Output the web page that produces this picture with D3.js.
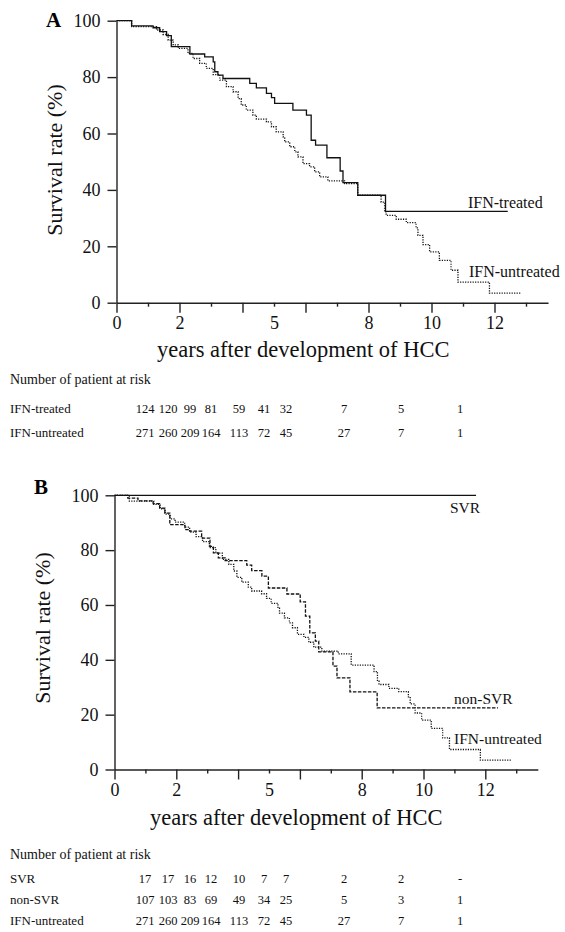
<!DOCTYPE html>
<html>
<head>
<meta charset="utf-8">
<script src="https://cdn.jsdelivr.net/npm/d3@7"></script>
<style>
  body { margin: 0; background: #fff; }
  svg { display: block; font-family: "Liberation Serif", "DejaVu Serif", serif; }
</style>
</head>
<body>
<script>
const w = 565;
const h = 932;

// survival curves (years, survival %)
const treatedT = [0, 0.48, 1.16, 1.37, 1.59, 1.74, 2.33, 2.80, 3.07, 3.12, 3.22, 3.38, 4.23, 4.44, 4.76, 4.92, 5.02, 5.60, 6.03, 6.18, 6.32, 6.68, 7.10, 7.19, 7.66, 8.54, 12.42];
const treatedS = [100, 98.2, 97.5, 96.1, 94.7, 90.8, 88.2, 87.2, 85.4, 81.9, 80.7, 79.5, 77.8, 76.2, 74.2, 72.7, 70.7, 68.3, 66.5, 57.6, 55.9, 51.4, 46.7, 42.6, 38.1, 32.4, 32.4];

const untreatedT = [0, 0.48, 1.27, 1.48, 1.64, 1.80, 1.96, 2.27, 2.43, 2.64, 2.85, 3.07, 3.28, 3.49, 3.70, 3.86, 3.96, 4.12, 4.33, 4.44, 4.76, 4.92, 5.07, 5.29, 5.34, 5.50, 5.66, 5.76, 5.92, 6.13, 6.29, 6.45, 6.71, 7.24, 7.66, 8.40, 8.51, 8.56, 8.88, 9.20, 9.51, 9.57, 9.73, 9.94, 10.25, 10.62, 10.84, 11.84, 12.84];
const untreatedS = [100, 97.9, 96.7, 95.1, 93.1, 91.4, 90.2, 88.4, 86.6, 84.9, 83.1, 80.9, 78.9, 76.6, 74.8, 72.4, 70.1, 68.3, 66.5, 65.1, 64.1, 62.4, 60.6, 58.8, 57.0, 55.3, 53.5, 51.7, 49.3, 48.2, 46.4, 44.6, 43.2, 42.2, 38.1, 35.7, 32.2, 31.0, 29.6, 28.4, 26.5, 23.9, 20.6, 18.0, 15.0, 11.5, 7.3, 3.4, 3.4];

const svrT = [0, 11.70];
const svrS = [100, 100];

const nonSvrT = [0, 0.43, 0.76, 1.25, 1.46, 1.63, 1.79, 2.28, 2.44, 2.82, 3.09, 3.20, 3.36, 3.58, 4.28, 4.44, 4.77, 4.98, 5.58, 6.01, 6.18, 6.32, 6.50, 6.61, 7.07, 7.20, 7.62, 8.50, 12.41];
const nonSvrS = [100, 99.0, 98.0, 97.0, 95.3, 93.5, 89.3, 87.5, 86.9, 84.4, 81.4, 79.0, 77.2, 76.2, 74.5, 72.5, 70.5, 66.2, 64.0, 61.1, 55.9, 49.8, 46.8, 42.9, 37.7, 33.4, 28.3, 22.5, 22.5];

// axis ticks
const yTicks = [0, 20, 40, 60, 80, 100];
const xTicks = d3.range(0, 14);
const xLabels = [0, 2, 5, 8, 10, 12];

// numbers at risk
const riskTitle = "Number of patient at risk";
const riskA = [
  { name: "IFN-treated", values: ["124", "120", "99", "81", "59", "41", "32", "7", "5", "1"] },
  { name: "IFN-untreated", values: ["271", "260", "209", "164", "113", "72", "45", "27", "7", "1"] }
];
const riskB = [
  { name: "SVR", values: ["17", "17", "16", "12", "10", "7", "7", "2", "2", "-"] },
  { name: "non-SVR", values: ["107", "103", "83", "69", "49", "34", "25", "5", "3", "1"] },
  { name: "IFN-untreated", values: ["271", "260", "209", "164", "113", "72", "45", "27", "7", "1"] }
];

const zip = (t, s) => t.map((d, i) => [d, s[i]]);

const svg = d3.select("body").append("svg")
  .attr("width", w)
  .attr("height", h);

function panel(cfg) {
  const x = d3.scaleLinear().domain([0, 13.7]).range([cfg.x0, cfg.x0 + 13.7 * cfg.pxYear]);
  const y = d3.scaleLinear().domain([0, 100]).range([cfg.y0, cfg.y100]);
  const g = svg.append("g");

  g.append("g")
    .attr("transform", "translate(" + cfg.x0 + ",0)")
    .call(d3.axisLeft(y).tickValues(yTicks).tickSize(9).tickSizeOuter(0).tickPadding(7))
    .call(a => a.selectAll("text").style("font-size", "18px").style("font-family", "Liberation Serif").attr("fill", "#111"))
    .call(a => a.selectAll("line,path").attr("stroke", "#222").attr("stroke-width", 1.4));

  g.append("g")
    .attr("transform", "translate(0," + cfg.y0 + ")")
    .call(d3.axisBottom(x).tickValues(xTicks).tickSize(10).tickSizeOuter(0).tickPadding(4)
      .tickFormat(d => xLabels.includes(d) ? d : ""))
    .call(a => a.selectAll(".tick line").attr("y2", d => d % 2 === 0 ? 10 : 4))
    .call(a => a.selectAll("text").style("font-size", "18px").style("font-family", "Liberation Serif").attr("fill", "#111"))
    .call(a => a.selectAll("line,path").attr("stroke", "#222").attr("stroke-width", 1.4));

  const line = d3.line().x(d => x(d[0])).y(d => y(d[1])).curve(d3.curveStepAfter);

  cfg.curves.forEach(c => {
    g.append("path")
      .datum(zip(c.t, c.s))
      .attr("d", line)
      .attr("fill", "none")
      .attr("stroke", "#111")
      .attr("stroke-width", 1.3)
      .attr("stroke-dasharray", c.dash);
    g.append("text")
      .attr("x", c.lx)
      .attr("y", c.ly)
      .style("font-size", cfg.labelSize)
      .attr("fill", "#111")
      .text(c.label);
  });

  g.append("text")
    .attr("x", cfg.letterX)
    .attr("y", cfg.letterY)
    .style("font-size", "21px")
    .style("font-weight", "bold")
    .text(cfg.letter);

  g.append("text")
    .attr("transform", "translate(" + cfg.ylabX + "," + cfg.ylabY + ") rotate(-90)")
    .attr("text-anchor", "middle")
    .style("font-size", "22px")
    .attr("fill", "#111")
    .text("Survival rate (%)");

  g.append("text")
    .attr("x", cfg.xlabX)
    .attr("y", cfg.xlabY)
    .style("font-size", "22.5px")
    .attr("fill", "#111")
    .text("years after development of HCC");

  // at-risk table
  const cols = [145, 168, 190, 211, 239, 264, 286, 344, 401, 460];
  g.append("text")
    .attr("x", 10)
    .attr("y", cfg.tableY)
    .style("font-size", "14px")
    .attr("fill", "#111")
    .text(riskTitle);
  cfg.risk.forEach((r, i) => {
    const ry = cfg.tableY + cfg.rowGap * (i + 1) + cfg.firstGap;
    g.append("text").attr("x", 10).attr("y", ry)
      .style("font-size", "13px").attr("fill", "#111").text(r.name);
    g.selectAll(null).data(r.values).enter().append("text")
      .attr("x", (d, j) => cols[j])
      .attr("y", ry)
      .attr("text-anchor", "middle")
      .style("font-size", "12.5px")
      .attr("fill", "#111")
      .text(d => d);
  });
}

panel({
  letter: "A", letterX: 46, letterY: 27,
  x0: 116.5, pxYear: 31.5, y0: 302.7, y100: 20.7,
  ylabX: 62, ylabY: 160, xlabX: 157, xlabY: 357,
  labelSize: "16px",
  curves: [
    { t: treatedT, s: treatedS, dash: null, label: "IFN-treated", lx: 468, ly: 208 },
    { t: untreatedT, s: untreatedS, dash: "1.2,1.3", label: "IFN-untreated", lx: 469, ly: 277 }
  ],
  risk: riskA, tableY: 384, rowGap: 24, firstGap: 5
});

panel({
  letter: "B", letterX: 34, letterY: 494,
  x0: 114.5, pxYear: 30.9, y0: 769.5, y100: 495.3,
  ylabX: 50, ylabY: 628, xlabX: 150, xlabY: 825,
  labelSize: "15.5px",
  curves: [
    { t: svrT, s: svrS, dash: null, label: "SVR", lx: 450, ly: 513 },
    { t: nonSvrT, s: nonSvrS, dash: "3.5,1.5", label: "non-SVR", lx: 454, ly: 704 },
    { t: untreatedT, s: untreatedS, dash: "1.2,1.3", label: "IFN-untreated", lx: 454, ly: 744 }
  ],
  risk: riskB, tableY: 859, rowGap: 21, firstGap: 3
});
</script>
</body>
</html>
